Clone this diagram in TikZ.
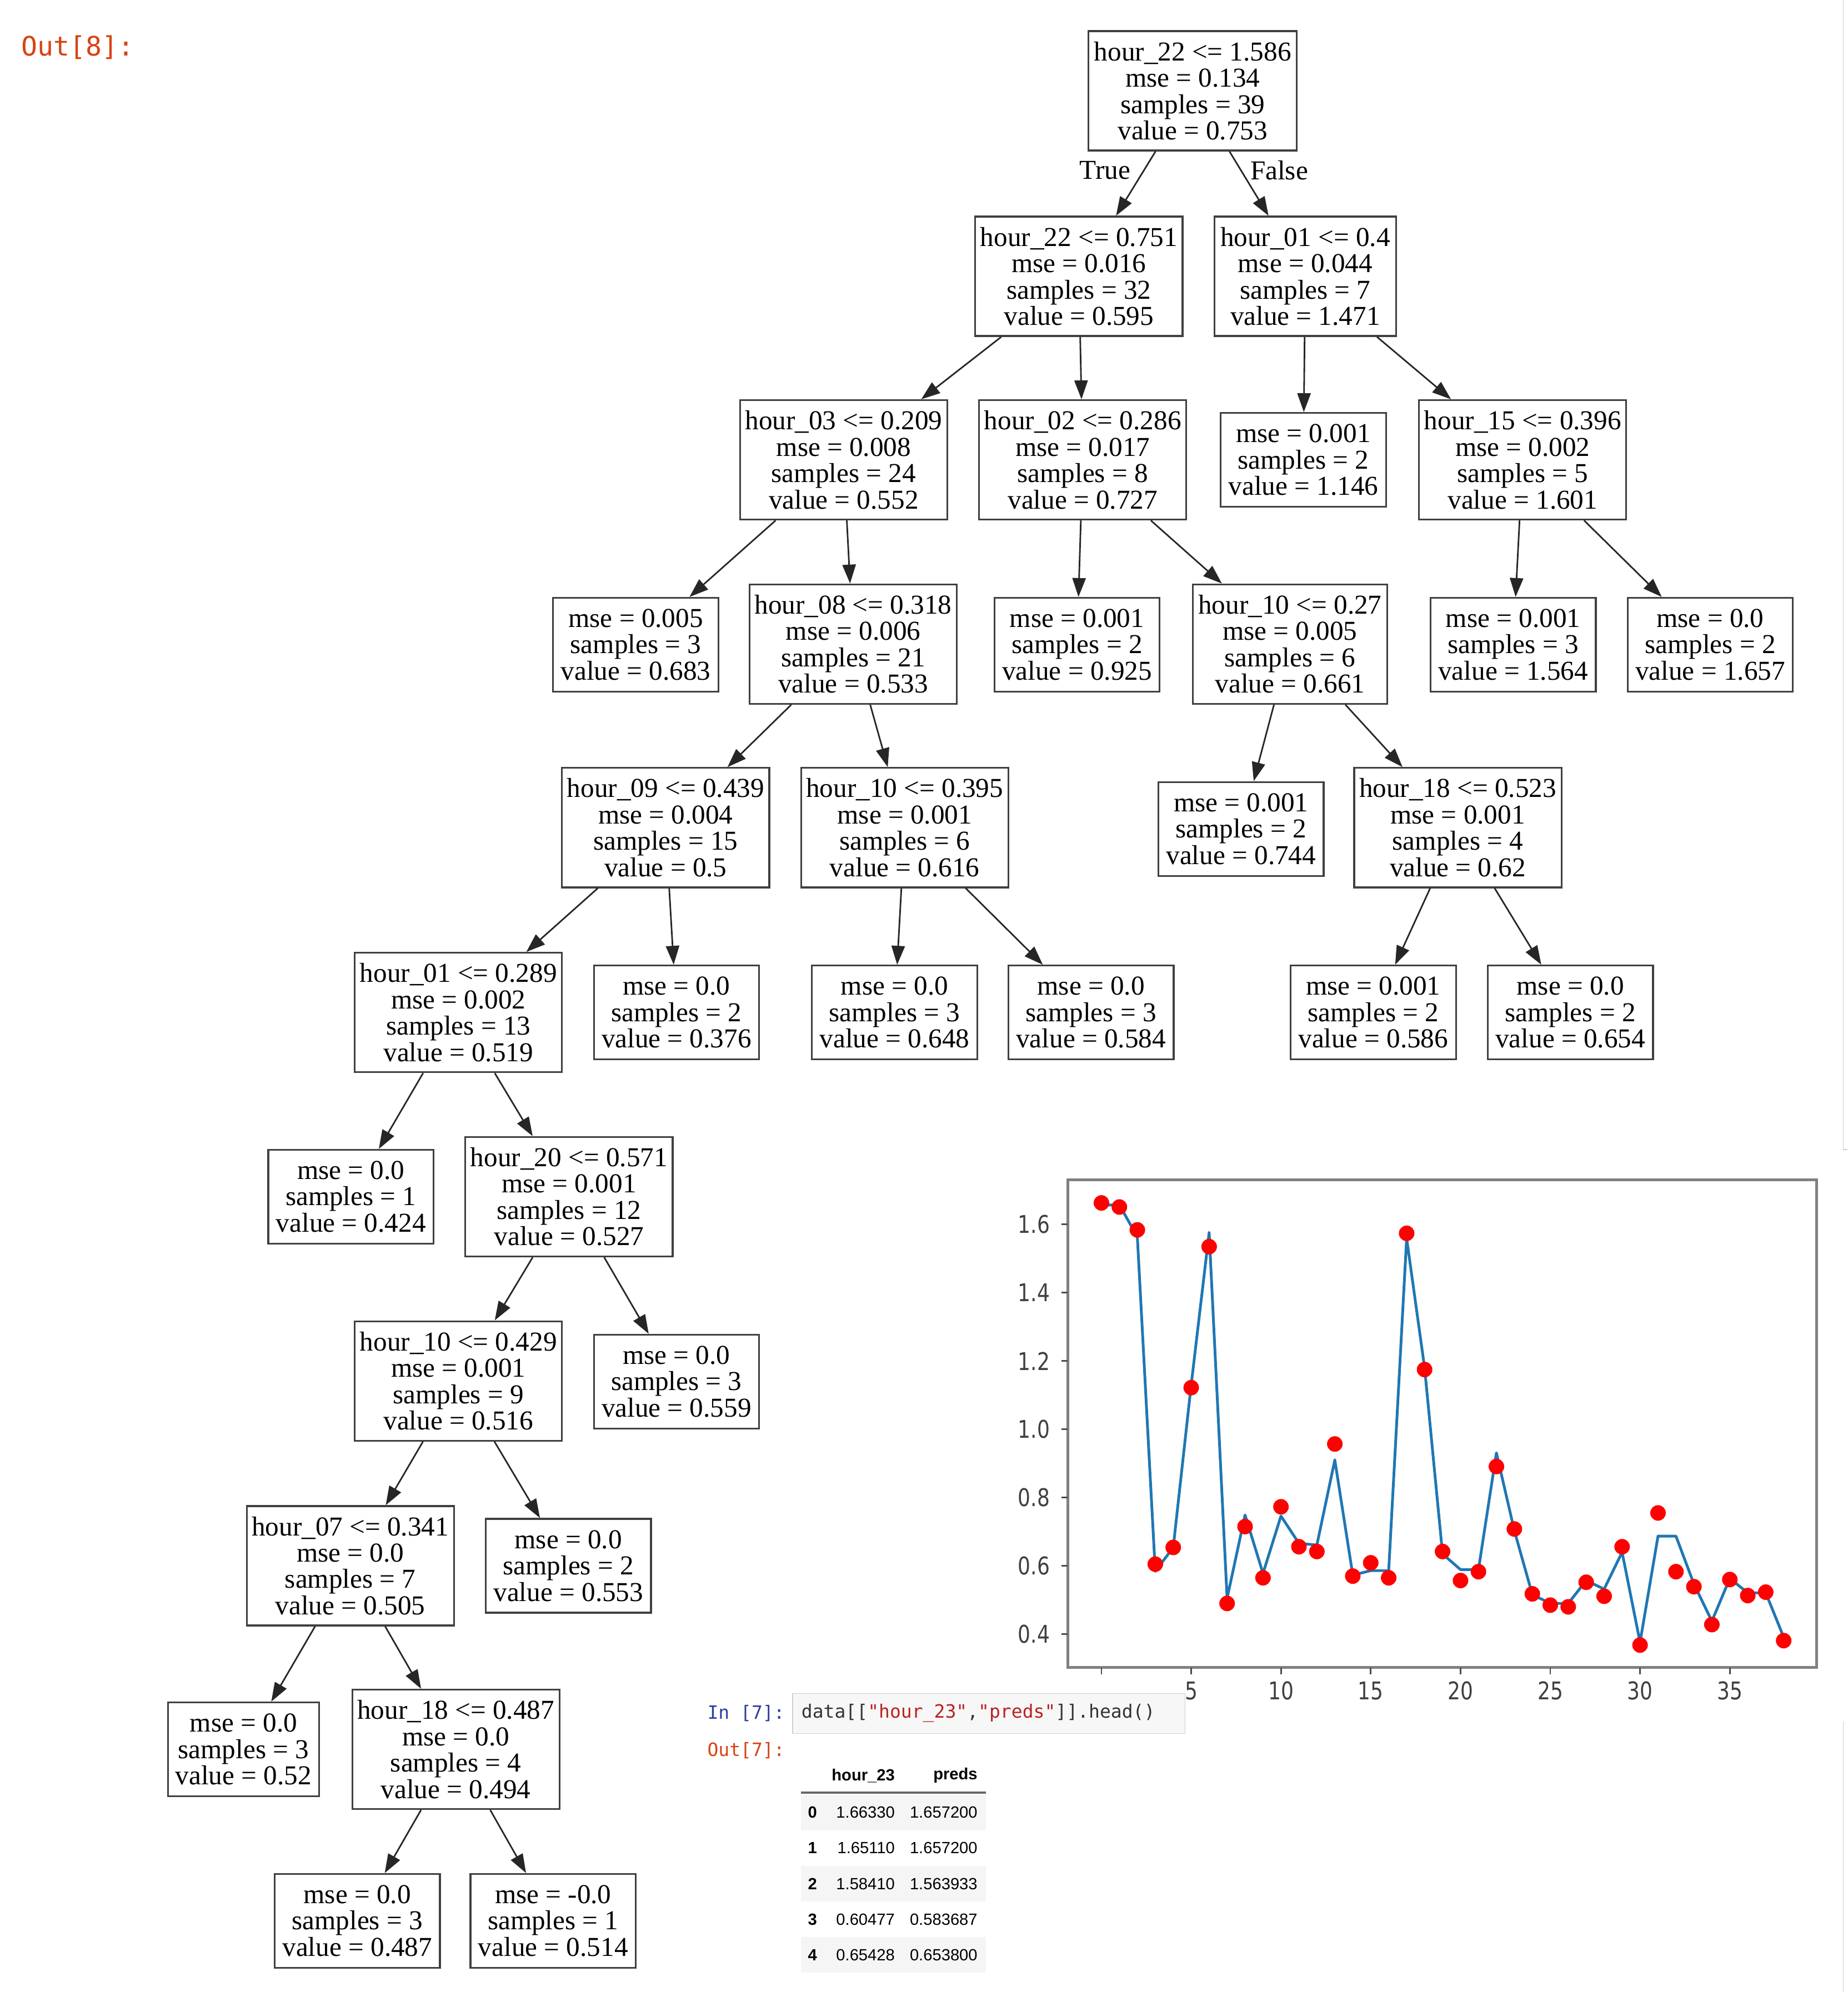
\documentclass[tikz,border=0pt]{standalone}
\usepackage{fontspec}
\setmainfont{Liberation Serif}
\newfontfamily\tickfont{DejaVu Sans}[FakeStretch=0.82]
\newfontfamily\jmono{DejaVu Sans Mono}
\newfontfamily\tabfont{Liberation Sans}
\usetikzlibrary{arrows.meta}
\definecolor{outred}{HTML}{D84315}
\definecolor{inblue}{HTML}{303F9F}
\definecolor{strred}{HTML}{BA2121}
\definecolor{mplblue}{HTML}{1F77B4}
\definecolor{cellbg}{HTML}{F7F7F7}
\definecolor{cellbd}{HTML}{CFCFCF}
\definecolor{stripe}{HTML}{F5F5F5}
\definecolor{codegray}{HTML}{333333}
\begin{document}
\begin{tikzpicture}[x=0.022884cm, y=-0.022876cm,
  box/.style={draw=black!75, line width=0.9pt, fill=white, align=center,
    inner xsep=0.08cm, inner ysep=0pt, font=\fontsize{14}{13.5}\selectfont},
  dec/.style={box, minimum height=2.15cm, minimum width=3.73cm},
  leaf/.style={box, minimum height=1.69cm, minimum width=2.975cm},
  edge/.style={draw=black!85, line width=0.8pt, -{Triangle[length=0.34cm,width=0.24cm]}},
  elabel/.style={font=\fontsize{14}{13.5}\selectfont, inner sep=0pt},
  dot/.style={circle, fill=red, draw=none, inner sep=0pt, minimum size=0.28cm},
  frame/.style={draw=black!50, line width=1.4pt},
  tick/.style={draw=black!70, line width=0.8pt},
  ticklab/.style={font=\tickfont\fontsize{12.5}{14}\selectfont, text=black!75, inner sep=0pt},
  prompt/.style={font=\jmono\fontsize{9.4}{11}\selectfont, inner sep=0pt, anchor=west},
  tabtxt/.style={font=\tabfont\fontsize{8.3}{10}\selectfont, inner sep=0pt},
  edgeline/.style={draw=black!20, line width=0.5pt}
]
\useasboundingbox (0,0) rectangle (1453,1568);
\fill[white] (0,0) rectangle (1453,1568);

% prompt
\node[font=\jmono\fontsize{13.7}{15}\selectfont, text=outred, inner sep=0pt, anchor=west] (out8) at (16.5,37.5) {Out[8]:};

% tree nodes
\node[dec, minimum width=3.75cm] (root) at (938,71.5) {hour\_22 <= 1.586\\mse = 0.134\\samples = 39\\value = 0.753};
\node[dec] (A) at (848.5,217.5) {hour\_22 <= 0.751\\mse = 0.016\\samples = 32\\value = 0.595};
\node[dec, minimum width=3.27cm] (B) at (1026.5,217.5) {hour\_01 <= 0.4\\mse = 0.044\\samples = 7\\value = 1.471};
\node[dec] (C) at (663.5,362) {hour\_03 <= 0.209\\mse = 0.008\\samples = 24\\value = 0.552};
\node[dec] (D) at (851.5,362) {hour\_02 <= 0.286\\mse = 0.017\\samples = 8\\value = 0.727};
\node[leaf] (E) at (1025,362) {mse = 0.001\\samples = 2\\value = 1.146};
\node[dec] (F) at (1197.5,362) {hour\_15 <= 0.396\\mse = 0.002\\samples = 5\\value = 1.601};
\node[leaf] (G) at (500,507.5) {mse = 0.005\\samples = 3\\value = 0.683};
\node[dec] (H) at (671,507) {hour\_08 <= 0.318\\mse = 0.006\\samples = 21\\value = 0.533};
\node[leaf] (I) at (847,507.5) {mse = 0.001\\samples = 2\\value = 0.925};
\node[dec, minimum width=3.5cm] (J) at (1014.5,507) {hour\_10 <= 0.27\\mse = 0.005\\samples = 6\\value = 0.661};
\node[leaf] (K) at (1190,507.5) {mse = 0.001\\samples = 3\\value = 1.564};
\node[leaf] (L) at (1345,507.5) {mse = 0.0\\samples = 2\\value = 1.657};
\node[dec] (M) at (523.5,651.5) {hour\_09 <= 0.439\\mse = 0.004\\samples = 15\\value = 0.5};
\node[dec] (N) at (711.5,651.5) {hour\_10 <= 0.395\\mse = 0.001\\samples = 6\\value = 0.616};
\node[leaf] (O) at (976,652.5) {mse = 0.001\\samples = 2\\value = 0.744};
\node[dec] (P) at (1146.5,651.5) {hour\_18 <= 0.523\\mse = 0.001\\samples = 4\\value = 0.62};
\node[dec] (Q) at (360.5,797) {hour\_01 <= 0.289\\mse = 0.002\\samples = 13\\value = 0.519};
\node[leaf] (R) at (532,797) {mse = 0.0\\samples = 2\\value = 0.376};
\node[leaf] (S) at (703.5,797) {mse = 0.0\\samples = 3\\value = 0.648};
\node[leaf] (T) at (858,797) {mse = 0.0\\samples = 3\\value = 0.584};
\node[leaf] (U) at (1080,797) {mse = 0.001\\samples = 2\\value = 0.586};
\node[leaf] (V) at (1235,797) {mse = 0.0\\samples = 2\\value = 0.654};
\node[leaf] (W) at (276,942) {mse = 0.0\\samples = 1\\value = 0.424};
\node[dec] (X) at (447.5,942) {hour\_20 <= 0.571\\mse = 0.001\\samples = 12\\value = 0.527};
\node[dec] (Y) at (360.5,1087) {hour\_10 <= 0.429\\mse = 0.001\\samples = 9\\value = 0.516};
\node[leaf] (Z) at (532,1087.5) {mse = 0.0\\samples = 3\\value = 0.559};
\node[dec] (AA) at (275.5,1232.5) {hour\_07 <= 0.341\\mse = 0.0\\samples = 7\\value = 0.505};
\node[leaf] (AB) at (447,1232.5) {mse = 0.0\\samples = 2\\value = 0.553};
\node[leaf, minimum width=2.72cm] (AC) at (191.5,1377) {mse = 0.0\\samples = 3\\value = 0.52};
\node[dec] (AD) at (358.5,1377) {hour\_18 <= 0.487\\mse = 0.0\\samples = 4\\value = 0.494};
\node[leaf] (AE) at (281,1512) {mse = 0.0\\samples = 3\\value = 0.487};
\node[leaf] (AF) at (435,1512) {mse = -0.0\\samples = 1\\value = 0.514};

% edges
\draw[edge] (root) -- (A);
\draw[edge] (root) -- (B);
\node[elabel] (tl) at (869,134) {True};
\node[elabel] (fl) at (1006,134) {False};
\foreach \p/\c in {A/C,A/D,B/E,B/F,C/G,C/H,D/I,D/J,F/K,F/L,H/M,H/N,J/O,J/P,M/Q,M/R,N/S,N/T,P/U,P/V,Q/W,Q/X,X/Y,X/Z,Y/AA,Y/AB,AA/AC,AA/AD,AD/AE,AD/AF}
  \draw[edge] (\p) -- (\c);

% plot
\begin{scope}[shift={(866.2,1393.8)}, xscale=14.12, yscale=-268.75]
  \draw[mplblue, line width=1.4pt, line join=round] plot coordinates {
    (0,1.657) (1,1.657) (2,1.564) (3,0.584) (4,0.654) (5,1.13) (6,1.576) (7,0.505)
    (8,0.749) (9,0.578) (10,0.746) (11,0.666) (12,0.661) (13,0.910) (14,0.573)
    (15,0.586) (16,0.586) (17,1.559) (18,1.180) (19,0.635) (20,0.589) (21,0.589)
    (22,0.931) (23,0.703) (24,0.516) (25,0.490) (26,0.490) (27,0.557) (28,0.532)
    (29,0.640) (30,0.376) (31,0.687) (32,0.687) (33,0.547) (34,0.438) (35,0.563)
    (36,0.521) (37,0.521) (38,0.391)};
  \foreach \i/\v in {0/1.663,1/1.651,2/1.584,3/0.605,4/0.654,5/1.122,6/1.535,7/0.490,
    8/0.715,9/0.565,10/0.773,11/0.656,12/0.642,13/0.957,14/0.570,15/0.609,16/0.565,
    17/1.574,18/1.175,19/0.642,20/0.557,21/0.583,22/0.891,23/0.708,24/0.518,25/0.485,
    26/0.480,27/0.552,28/0.511,29/0.656,30/0.368,31/0.755,32/0.583,33/0.539,34/0.428,
    35/0.560,36/0.513,37/0.523,38/0.381}
    \node[dot] (p\i) at (\i,\v) {};
\end{scope}
\draw[frame] (839.8,928.5) rectangle (1428.8,1312.5);
\foreach \yy/\lab [count=\k] in {963.8/1.6,1017.55/1.4,1071.3/1.2,1125.05/1.0,1178.8/0.8,1232.55/0.6,1286.3/0.4} {
  \draw[tick] (835,\yy) -- (839.8,\yy);
  \node[ticklab, anchor=east] (yl\k) at (826,\yy) {\lab};
}
\foreach \xx in {866.2,936.8,1007.4,1078.0,1148.6,1219.2,1289.8,1360.4}
  \draw[tick] (\xx,1312.5) -- (\xx,1318);
\foreach \xx/\lab [count=\k] in {936.8/5,1007.4/10,1078.0/15,1148.6/20,1219.2/25,1289.8/30,1360.4/35}
  \node[ticklab] (xl\k) at (\xx,1331) {\lab};

% code cell
\node[prompt, text=inblue] (in7) at (556,1348.5) {In [7]:};
\node[draw=cellbd, fill=cellbg, line width=0.5pt, minimum width=308.5*0.022884cm, minimum height=31.5*0.022876cm, inner sep=0pt] (cell) at (777.75,1348.75) {};
\node[prompt, text=codegray] (code) at (630,1348.5) {data[[\textcolor{strred}{"hour\_23"},\textcolor{strred}{"preds"}]].head()};
\node[prompt, text=outred] (out7) at (556,1378) {Out[7]:};

% table
\foreach \yy in {1426.6,1482.9,1538.8}
  \fill[stripe] (630,\yy-14) rectangle (775.5,\yy+14);
\node[tabtxt, anchor=east, font=\tabfont\bfseries\fontsize{8.3}{10}\selectfont] (h1) at (704,1397.6) {hour\_23};
\node[tabtxt, anchor=east, font=\tabfont\bfseries\fontsize{8.3}{10}\selectfont] (h2) at (769,1397.6) {preds};
\draw[draw=black!60, line width=1.1pt] (630,1411) -- (775.5,1411);
\foreach \yy/\idx/\a/\b in {1426.6/0/1.66330/1.657200, 1454.7/1/1.65110/1.657200, 1482.9/2/1.58410/1.563933, 1510.9/3/0.60477/0.583687, 1538.8/4/0.65428/0.653800} {
  \node[tabtxt, font=\tabfont\bfseries\fontsize{8.3}{10}\selectfont] (i\idx) at (639,\yy) {\idx};
  \node[tabtxt, anchor=east] (a\idx) at (704,\yy) {\a};
  \node[tabtxt, anchor=east] (b\idx) at (769,\yy) {\b};
}

% window edges
\draw[edgeline] (1449.6,0) -- (1449.6,905) -- (1453,905);
\draw[edgeline] (1449.6,1355) -- (1449.6,1568);
\end{tikzpicture}
\end{document}
